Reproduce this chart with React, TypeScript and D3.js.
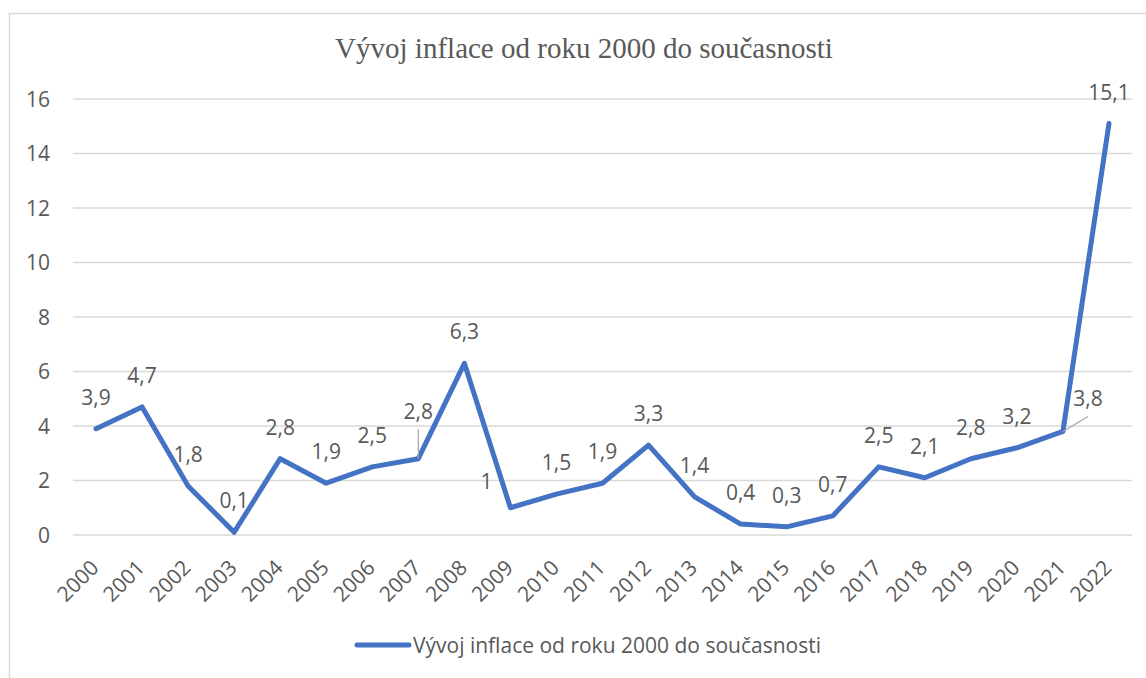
import React from "react";
import * as d3 from "d3";

const years = ["2000","2001","2002","2003","2004","2005","2006","2007","2008","2009","2010","2011","2012","2013","2014","2015","2016","2017","2018","2019","2020","2021","2022"];
const inflation = [3.9,4.7,1.8,0.1,2.8,1.9,2.5,2.8,6.3,1.0,1.5,1.9,3.3,1.4,0.4,0.3,0.7,2.5,2.1,2.8,3.2,3.8,15.1];
const yTicks = [0,2,4,6,8,10,12,14,16];
const title = "Vývoj inflace od roku 2000 do současnosti";
const seriesName = "Vývoj inflace od roku 2000 do současnosti";

const W = 1146, H = 678;
const sansFont = "'Open Sans', sans-serif";
const fs = 21;
const grey = "#595959";
const blue = "#4472C4";

export default function App() {
  const x = d3.scaleBand<string>().domain(years).range([73, 1132]).padding(0);
  const cx = (y: string) => (x(y) as number) + x.bandwidth() / 2;
  const y = d3.scaleLinear().domain([0, 16]).range([535, 99]);
  const line = d3.line<number>().x((_, i) => cx(years[i])).y((d) => y(d));
  const fmt = (v: number) => (Number.isInteger(v) ? String(v) : v.toFixed(1).replace(".", ","));

  return (
    <svg width={W} height={H} style={{ position: "absolute", left: 0, top: 0, background: "#fff" }}>
      <rect x={9.5} y={13.5} width={1200} height={700} fill="#fff" stroke="#d9d9d9" strokeWidth={1.5} />
      <text x={584} y={58} textAnchor="middle" fontFamily="'Liberation Serif', 'Times New Roman', serif" fontSize={29} fill={grey}>{title}</text>
      {yTicks.map((t) => (
        <g key={t}>
          <line x1={73} x2={1132} y1={y(t)} y2={y(t)} stroke="#d9d9d9" strokeWidth={1.5} />
          <text x={50} y={y(t)} dy="0.36em" textAnchor="end" fontFamily={sansFont} fontSize={fs} fill={grey}>{t}</text>
        </g>
      ))}
      {years.map((yr) => (
        <text key={yr} transform={`translate(${cx(yr) + 4},569) rotate(-45)`} textAnchor="end" fontFamily={sansFont} fontSize={fs} fill={grey}>{yr}</text>
      ))}
      <path d={line(inflation) || ""} fill="none" stroke={blue} strokeWidth={5} strokeLinejoin="round" strokeLinecap="round" />
      <line x1={cx("2007")} x2={cx("2007")} y1={429} y2={y(2.8)} stroke="#a6a6a6" strokeWidth={1.2} />
      <line x1={cx("2021")} x2={cx("2021") + 25} y1={y(3.8)} y2={y(3.8) - 15} stroke="#a6a6a6" strokeWidth={1.2} />
      {inflation.map((v, i) => {
        const yr = years[i];
        let lx = cx(yr), ly = y(v) - 24, anchor = "middle";
        if (yr === "2007") { ly = y(v) - 40; }
        if (yr === "2009") { lx = cx(yr) - 18; ly = y(v) - 19; anchor = "end"; }
        if (yr === "2021") { lx = cx(yr) + 25; ly = y(v) - 25; }
        return (
          <text key={yr} x={lx} y={ly} textAnchor={anchor} fontFamily={sansFont} fontSize={fs} fill={grey}>{fmt(v)}</text>
        );
      })}
      <line x1={357} x2={409} y1={645} y2={645} stroke={blue} strokeWidth={5} strokeLinecap="round" />
      <text x={413} y={653} fontFamily={sansFont} fontSize={fs} fill={grey}>{seriesName}</text>
    </svg>
  );
}
